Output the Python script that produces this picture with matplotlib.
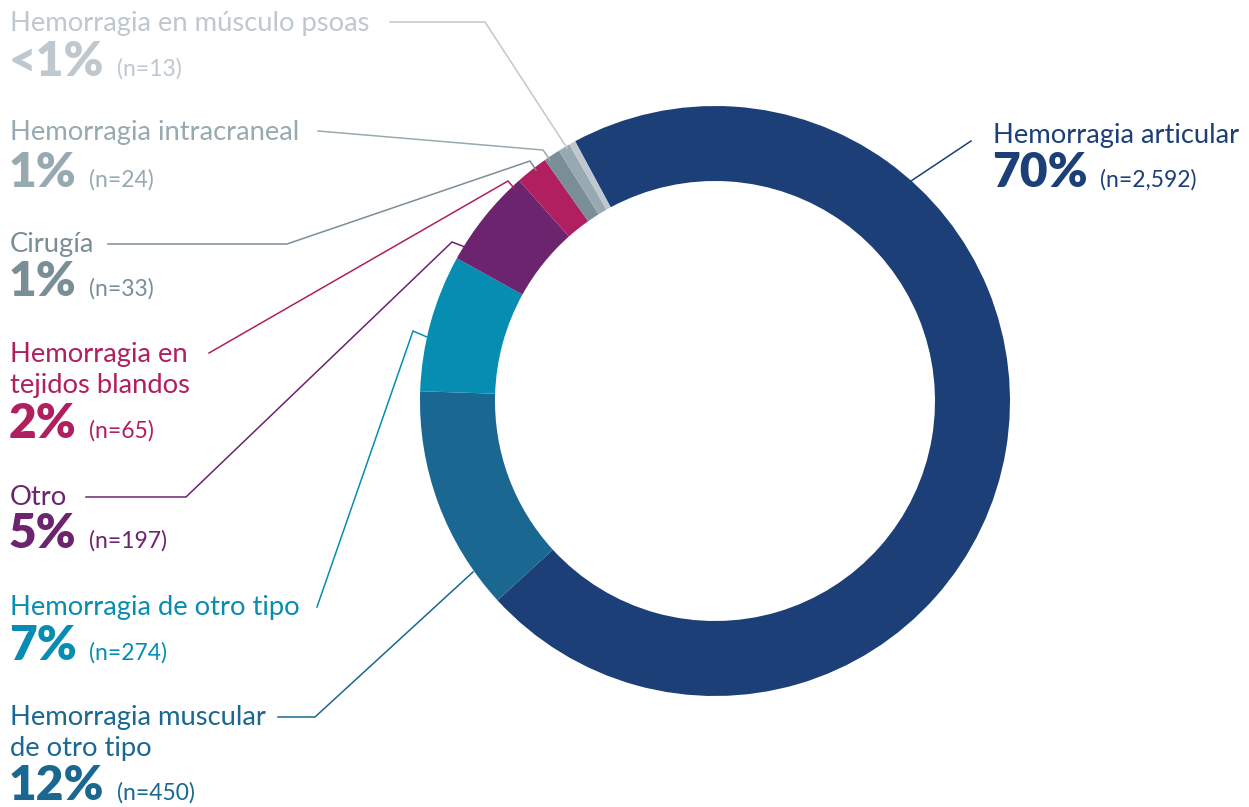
import matplotlib
matplotlib.use("Agg")
import matplotlib.pyplot as plt

plt.rcParams['font.family'] = ['Lato', 'DejaVu Sans']

# datos del gráfico
categorias = ["Hemorragia articular", "Hemorragia muscular\nde otro tipo", "Hemorragia de otro tipo",
              "Otro", "Hemorragia en\ntejidos blandos", "Cirugía", "Hemorragia intracraneal",
              "Hemorragia en músculo psoas"]
porcentajes = ["70%", "12%", "7%", "5%", "2%", "1%", "1%", "<1%"]
n_casos = [2592, 450, 274, 197, 65, 33, 24, 13]
colores = ["#1c3f78", "#1a6791", "#088db2", "#6b246d", "#b01f5f", "#7a8e98", "#97aab2", "#bec8ce"]

W, H = 1249, 807
fig = plt.figure(figsize=(W / 100, H / 100), dpi=100)
ax = fig.add_axes([0, 0, 1, 1])

def py(y):
    # coordenada vertical medida desde arriba
    return H - y

ax.pie(n_casos, colors=colores, startangle=118.3, counterclock=False,
       radius=295, center=(715, py(401)),
       wedgeprops=dict(width=75, linewidth=0))

ax.set_xlim(0, W)
ax.set_ylim(0, H)
ax.set_aspect('equal')
ax.axis('off')

# posición de cada etiqueta: x, línea base de la primera línea del nombre, línea base del porcentaje
etiquetas = [
    (993, 143, 187),
    (10, 725, 800),
    (10, 615, 660),
    (10, 505, 548),
    (10, 362, 438),
    (10, 252, 296),
    (10, 140, 187),
    (10, 31, 76),
]

# líneas guía hacia cada sector
guias = [
    [(971, 141), (905, 185)],
    [(278, 717), (315, 717), (473, 572)],
    [(317, 607), (413, 331), (427, 337)],
    [(86, 497), (186, 497), (452, 242), (465, 247)],
    [(209, 353), (508, 181), (514, 188)],
    [(108, 244), (287, 244), (530, 161), (536, 170)],
    [(318, 131), (543, 150), (550, 160)],
    [(390, 22), (485, 22), (567, 148)],
]

for i in range(len(categorias)):
    x, yb, yp = etiquetas[i]
    c = colores[i]
    for k, linea in enumerate(categorias[i].split("\n")):
        ax.text(x, py(yb + 31 * k), linea, color=c, fontsize=19.7, va='baseline', ha='left')
    t = ax.text(x - 1, py(yp), porcentajes[i], color=c, fontsize=34.5, fontweight='heavy',
                va='baseline', ha='left')
    ax.annotate("(n={:,})".format(n_casos[i]), xy=(1, py(yp)), xycoords=(t, 'data'),
                xytext=(9, 0), textcoords='offset points',
                color=c, fontsize=16.5, va='baseline', ha='left')
    xs = [p[0] for p in guias[i]]
    ys = [py(p[1]) for p in guias[i]]
    ax.plot(xs, ys, color=c, linewidth=1.1, solid_joinstyle='miter')

fig.savefig("out.png", dpi=100)
